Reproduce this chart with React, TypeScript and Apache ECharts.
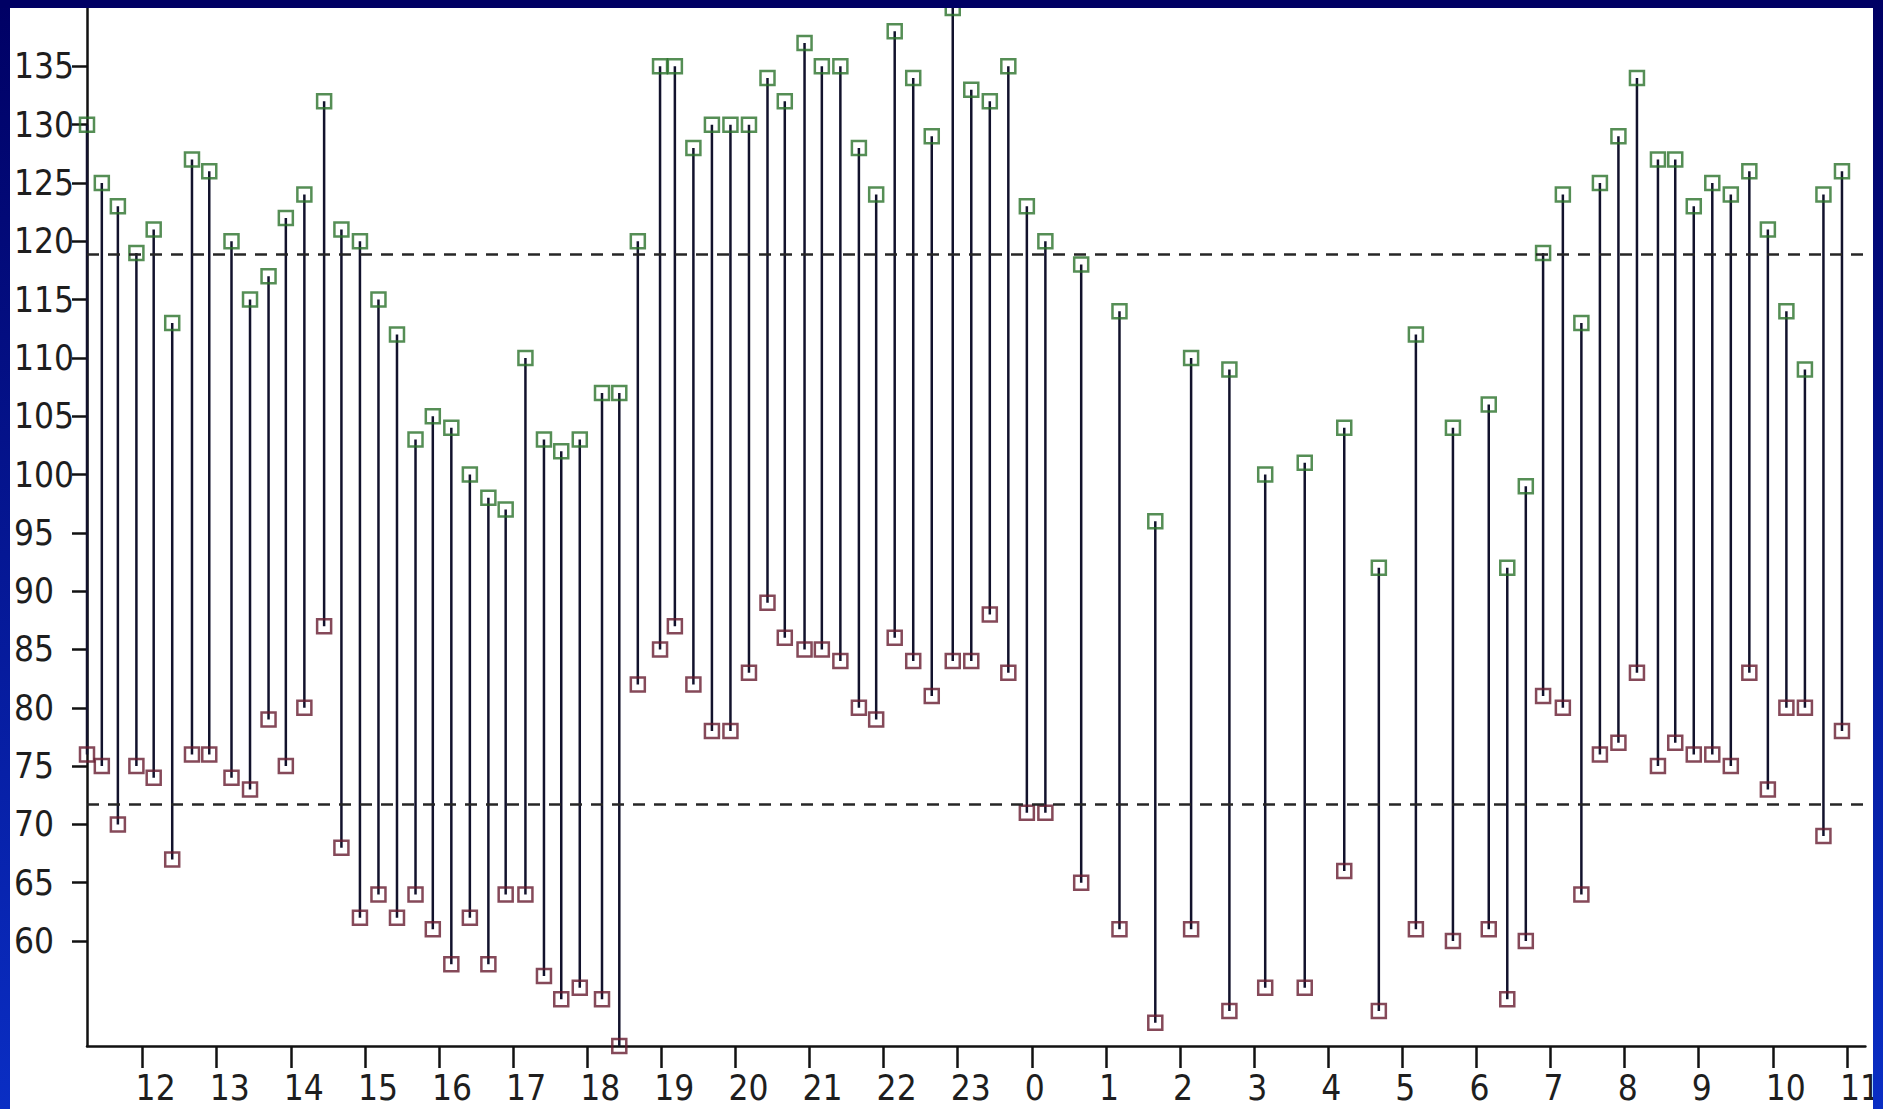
import { useEffect, useRef } from 'react';
import * as echarts from 'echarts';

// 24-hour ambulatory blood-pressure record: one reading per stem
const readingTimes = [
  '11:15', '11:27', '11:40', '11:55', '12:09', '12:24', '12:40', '12:54', '13:12', '13:27',
  '13:42', '13:56', '14:11', '14:27', '14:41', '14:56', '15:11', '15:26', '15:41', '15:55',
  '16:10', '16:25', '16:40', '16:54', '17:10', '17:25', '17:39', '17:54', '18:12', '18:26',
  '18:41', '18:59', '19:11', '19:26', '19:41', '19:56', '20:11', '20:26', '20:40', '20:56',
  '21:10', '21:25', '21:40', '21:54', '22:09', '22:24', '22:39', '22:56', '23:11', '23:26',
  '23:41', '23:56', '0:11', '0:40', '1:11', '1:40', '2:09', '2:40', '3:09', '3:41',
  '4:13', '4:41', '5:11', '5:41', '6:10', '6:25', '6:40', '6:54', '7:10', '7:25',
  '7:40', '7:55', '8:10', '8:27', '8:41', '8:56', '9:11', '9:26', '9:41', '9:56',
  '10:11', '10:26', '10:41', '10:56',
];

const systolic = [
  130, 125, 123, 119, 121, 113, 127, 126, 120, 115, 117, 122, 124, 132, 121, 120, 115, 112,
  103, 105, 104, 100, 98, 97, 110, 103, 102, 103, 107, 107, 120, 135, 135, 128, 130, 130, 130, 134, 132,
  137, 135, 135, 128, 124, 138, 134, 129, 140, 133, 132, 135, 123, 120, 118, 114, 96, 110,
  109, 100, 101, 104, 92, 112, 104, 106, 92, 99, 119, 124, 113,
  125, 129, 134, 127, 127, 123, 125, 124, 126, 121, 114, 109, 124, 126,
];

const diastolic = [
  76, 75, 70, 75, 74, 67, 76, 76, 74, 73, 79, 75, 80, 87, 68, 62, 64, 62,
  64, 61, 58, 62, 58, 64, 64, 57, 55, 56, 55, 51, 82, 85, 87, 82, 78, 78, 83, 89, 86,
  85, 85, 84, 80, 79, 86, 84, 81, 84, 84, 88, 83, 71, 71, 65, 61, 53, 61,
  54, 56, 56, 66, 54, 61, 60, 61, 55, 60, 81, 80, 64,
  76, 77, 83, 75, 77, 76, 76, 75, 83, 73, 80, 80, 69, 78,
];

const hourLabels = [
  '12', '13', '14', '15', '16', '17', '18', '19', '20', '21', '22', '23',
  '0', '1', '2', '3', '4', '5', '6', '7', '8', '9', '10', '11',
];

const pressureTicks = [60, 65, 70, 75, 80, 85, 90, 95, 100, 105, 110, 115, 120, 125, 130, 135];

// reference levels drawn as dashed lines
const systolicLevel = 118.9;
const diastolicLevel = 71.7;

// recording window, in hours counted from midnight of the first day
const WINDOW_START = 11.25;
const WINDOW_END = 35.25;
const FIRST_TICK_HOUR = 12;
// hour labels sit left-aligned slightly before their tick
const LABEL_NUDGE = 0.094;

const FONT = "'Liberation Sans Narrow', 'Arial Narrow', 'DejaVu Sans Condensed', sans-serif";
const TOP_COLOR = '#000064';
const BOTTOM_COLOR = '#0a2ec4';
const STEM_COLOR = '#12122c';

function toHour(t: string): number {
  const [h, m] = t.split(':').map(Number);
  let v = h + m / 60;
  if (v < WINDOW_START - 0.01) v += 24;
  return v;
}

export default function App() {
  const ref = useRef<HTMLDivElement>(null);

  useEffect(() => {
    if (!ref.current) return;
    const chart = echarts.init(ref.current, null, { renderer: 'svg' });

    const hours = readingTimes.map(toHour);
    const stems = hours.map((h, i) => [h, systolic[i], diastolic[i]]);
    const sysPoints = hours.map((h, i) => [h, systolic[i]]);
    const diaPoints = hours.map((h, i) => [h, diastolic[i]]);
    const hourTicks = hourLabels.map((_, i) => FIRST_TICK_HOUR + i);
    const labelPositions = hourTicks.map((h) => h - LABEL_NUDGE);

    const yMin = Math.min(...diastolic);
    const yMax = Math.max(...systolic);

    const option: any = {
      animation: false,
      backgroundColor: 'transparent',
      grid: { left: 87, right: 10, top: 8, bottom: 63, containLabel: false },
      graphic: [
        {
          type: 'rect',
          silent: true,
          z: -10,
          shape: { x: 10, y: 8, width: 1863, height: 1101 },
          style: { fill: '#ffffff' },
        },
        {
          type: 'rect',
          silent: true,
          z: 100,
          shape: { x: 0, y: 0, width: 1883, height: 8 },
          style: { fill: TOP_COLOR },
        },
        {
          type: 'rect',
          silent: true,
          z: 100,
          shape: { x: 1873, y: 0, width: 10, height: 1109 },
          style: {
            fill: new echarts.graphic.LinearGradient(0, 0, 0, 1, [
              { offset: 0, color: TOP_COLOR },
              { offset: 1, color: BOTTOM_COLOR },
            ]),
          },
        },
      ],
      xAxis: {
        type: 'value',
        min: WINDOW_START,
        max: WINDOW_END,
        axisLine: { show: true, onZero: false, lineStyle: { color: '#111111', width: 2.5 } },
        axisTick: {
          show: true,
          length: 22,
          customValues: hourTicks,
          lineStyle: { color: '#111111', width: 2.5 },
        },
        axisLabel: {
          customValues: labelPositions,
          formatter: (v: number) => hourLabels[Math.round(v + LABEL_NUDGE) - FIRST_TICK_HOUR],
          align: 'left',
          margin: 24,
          fontSize: 35,
          fontFamily: FONT,
          color: '#1e1e1e',
        },
        splitLine: { show: false },
      },
      yAxis: {
        type: 'value',
        min: yMin,
        max: yMax,
        axisLine: { show: true, onZero: false, lineStyle: { color: '#111111', width: 2.5 } },
        axisTick: {
          show: true,
          length: 15,
          customValues: pressureTicks,
          lineStyle: { color: '#111111', width: 2.5 },
        },
        axisLabel: {
          customValues: pressureTicks,
          align: 'left',
          verticalAlign: 'middle',
          margin: 73,
          fontSize: 35,
          fontFamily: FONT,
          color: '#1e1e1e',
        },
        splitLine: { show: false },
      },
      series: [
        {
          type: 'custom',
          name: 'range',
          data: stems,
          encode: { x: 0, y: [1, 2] },
          clip: false,
          z: 2,
          renderItem: (params: any, api: any) => {
            const top = api.coord([api.value(0), api.value(1)]);
            const bottom = api.coord([api.value(0), api.value(2)]);
            return {
              type: 'line',
              shape: { x1: top[0], y1: top[1], x2: bottom[0], y2: bottom[1] },
              style: { stroke: STEM_COLOR, lineWidth: 2.5 },
            };
          },
        },
        {
          type: 'scatter',
          name: 'systolic',
          data: sysPoints,
          symbol: 'rect',
          symbolSize: 14,
          clip: false,
          z: 3,
          itemStyle: { color: 'rgba(0,0,0,0)', borderColor: '#2a722a', borderWidth: 2.5 },
          markLine: {
            silent: true,
            symbol: 'none',
            label: { show: false },
            lineStyle: { type: [12, 9], color: '#262626', width: 2.5 },
            data: [{ yAxis: systolicLevel }, { yAxis: diastolicLevel }],
          },
        },
        {
          type: 'scatter',
          name: 'diastolic',
          data: diaPoints,
          symbol: 'rect',
          symbolSize: 14,
          clip: false,
          z: 3,
          itemStyle: { color: 'rgba(0,0,0,0)', borderColor: '#661c30', borderWidth: 2.5 },
        },
      ],
    };

    chart.setOption(option);
    return () => chart.dispose();
  }, []);

  return (
    <div
      ref={ref}
      style={{
        position: 'absolute',
        left: 0,
        top: 0,
        width: 1883,
        height: 1109,
        background: `linear-gradient(to bottom, ${TOP_COLOR}, ${BOTTOM_COLOR})`,
      }}
    />
  );
}
